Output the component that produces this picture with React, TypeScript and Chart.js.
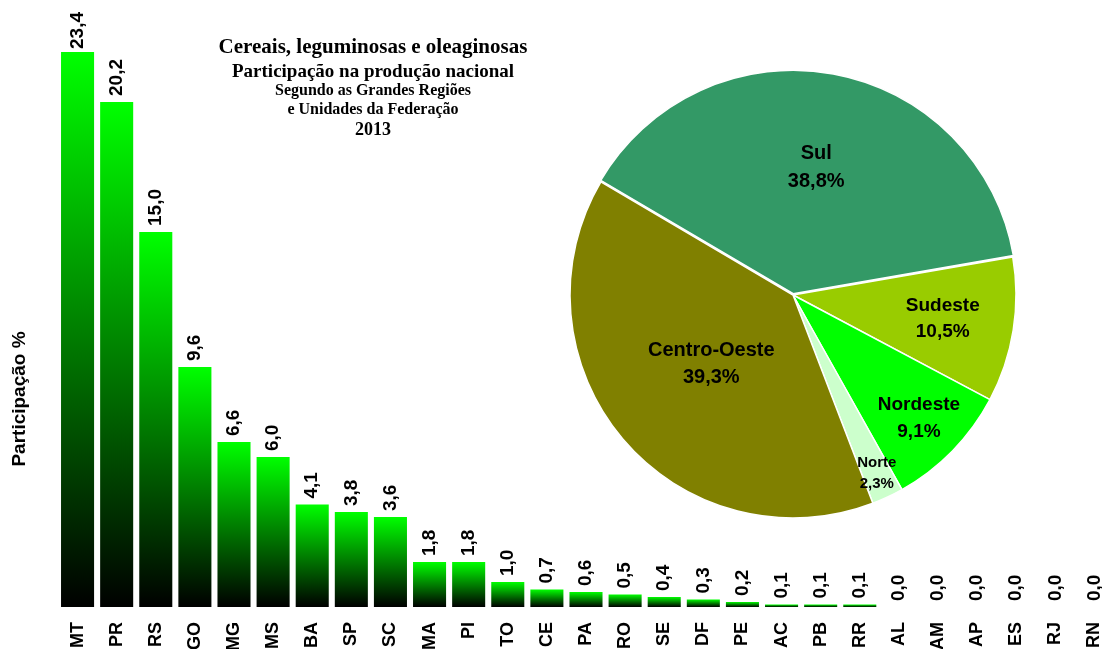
import React, { useEffect, useRef } from 'react';
import { Chart, registerables } from 'chart.js';

Chart.register(...registerables);

// ---- data ----
const states = ['MT', 'PR', 'RS', 'GO', 'MG', 'MS', 'BA', 'SP', 'SC', 'MA', 'PI', 'TO', 'CE', 'PA', 'RO', 'SE', 'DF', 'PE', 'AC', 'PB', 'RR', 'AL', 'AM', 'AP', 'ES', 'RJ', 'RN'];
const participation = [23.4, 20.2, 15.0, 9.6, 6.6, 6.0, 4.1, 3.8, 3.6, 1.8, 1.8, 1.0, 0.7, 0.6, 0.5, 0.4, 0.3, 0.2, 0.1, 0.1, 0.1, 0.0, 0.0, 0.0, 0.0, 0.0, 0.0];
const regions = ['Sul', 'Sudeste', 'Nordeste', 'Norte', 'Centro-Oeste'];
const regionShare = [38.8, 10.5, 9.1, 2.3, 39.3];
const regionColors = ['#339966', '#99CC00', '#00FF00', '#CCFFCC', '#808000'];
const titleLines = ['Cereais, leguminosas e oleaginosas', 'Participação na produção nacional', 'Segundo as Grandes Regiões', 'e Unidades da Federação', '2013'];
const yAxisTitle = 'Participação %';
const Y_MAX = 22.2;

// ---- styles ----
const SANS = 'Arial, "Liberation Sans", sans-serif';
const SERIF = '"Times New Roman", "Liberation Serif", serif';
const titleSizes = [21, 19, 16, 16, 18];
const titleYs = [48, 72, 91, 110, 130];
const pieLabelFactor = [0.58, 0.68, 0.79, 0.885, 0.48];
const pieLabelSize = [20, 19, 19, 15, 20];

const fmt = (v: number) => v.toFixed(1).replace('.', ',');

const barPlugin = {
  id: 'barExtras',
  afterDatasetsDraw(chart: any) {
    const ctx = chart.ctx;
    const meta = chart.getDatasetMeta(0);
    const top = chart.chartArea.top;
    ctx.save();
    ctx.fillStyle = '#000';
    ctx.font = `bold 19px ${SANS}`;
    ctx.textAlign = 'left';
    ctx.textBaseline = 'middle';
    meta.data.forEach((bar: any, i: number) => {
      const y = Math.max(bar.y, top);
      ctx.save();
      ctx.translate(bar.x, y - (i === 0 ? 3 : 6));
      ctx.rotate(-Math.PI / 2);
      ctx.fillText(fmt(participation[i]), 0, 0);
      ctx.restore();
    });
    ctx.restore();
  },
  afterDraw(chart: any) {
    const ctx = chart.ctx;
    ctx.save();
    ctx.fillStyle = '#000';
    ctx.textAlign = 'center';
    ctx.textBaseline = 'middle';
    titleLines.forEach((t, i) => {
      ctx.font = `bold ${titleSizes[i]}px ${SERIF}`;
      ctx.fillText(t, 373, titleYs[i]);
    });
    ctx.font = `bold 19px ${SANS}`;
    ctx.translate(20, 399);
    ctx.rotate(-Math.PI / 2);
    ctx.fillText(yAxisTitle, 0, 0);
    ctx.restore();
  },
};

const piePlugin = {
  id: 'pieLabels',
  afterDatasetsDraw(chart: any) {
    const ctx = chart.ctx;
    const meta = chart.getDatasetMeta(0);
    ctx.save();
    ctx.fillStyle = '#000';
    ctx.textAlign = 'center';
    ctx.textBaseline = 'middle';
    meta.data.forEach((arc: any, i: number) => {
      const mid = (arc.startAngle + arc.endAngle) / 2;
      const r = arc.outerRadius * pieLabelFactor[i];
      const cx = arc.x + Math.cos(mid) * r;
      const cy = arc.y + Math.sin(mid) * r;
      const size = pieLabelSize[i];
      const lh = size * 1.38;
      ctx.font = `bold ${size}px ${SANS}`;
      ctx.fillText(regions[i], cx, cy - lh / 2);
      ctx.fillText(fmt(regionShare[i]) + '%', cx, cy + lh / 2);
    });
    ctx.restore();
  },
};

export default function App() {
  const barRef = useRef<HTMLCanvasElement>(null);
  const pieRef = useRef<HTMLCanvasElement>(null);

  useEffect(() => {
    const bar = new Chart(barRef.current as HTMLCanvasElement, {
      type: 'bar',
      data: {
        labels: states,
        datasets: [
          {
            data: participation,
            backgroundColor: (ctx: any) => {
              const chart = ctx.chart;
              const { chartArea, scales } = chart;
              if (!chartArea || ctx.type !== 'data') return '#00ff00';
              const v = Math.min(ctx.raw, Y_MAX);
              const yb = scales.y.getPixelForValue(0);
              const yt = scales.y.getPixelForValue(v);
              if (yb - yt < 0.5) return '#00ff00';
              const g = chart.ctx.createLinearGradient(0, yb, 0, yt);
              g.addColorStop(0, '#000000');
              g.addColorStop(1, '#00ff00');
              return g;
            },
            borderWidth: 0,
            barPercentage: 0.845,
            categoryPercentage: 1,
          },
        ],
      },
      options: {
        responsive: false,
        animation: false,
        layout: { padding: { top: 52, left: 58, right: 0, bottom: 0 } },
        plugins: { legend: { display: false }, tooltip: { enabled: false }, title: { display: false } },
        scales: {
          x: {
            grid: { display: false, drawTicks: false },
            border: { display: false },
            ticks: {
              color: '#000',
              font: { family: SANS, weight: 'bold', size: 18 },
              minRotation: 90,
              maxRotation: 90,
              autoSkip: false,
              padding: 15,
            },
            afterFit: (scale: any) => {
              scale.height = 42;
              scale.paddingLeft = 0;
              scale.paddingRight = 0;
            },
          },
          y: { display: false, min: 0, max: Y_MAX },
        },
      } as any,
      plugins: [barPlugin],
    });

    const pie = new Chart(pieRef.current as HTMLCanvasElement, {
      type: 'pie',
      data: {
        labels: regions,
        datasets: [
          {
            data: regionShare,
            backgroundColor: regionColors,
            borderColor: '#ffffff',
            borderWidth: 1.5,
            offset: [5, 0, 0, 0, 0],
          },
        ],
      },
      options: {
        responsive: false,
        animation: false,
        rotation: -59.5,
        radius: 223,
        layout: { padding: 0 },
        plugins: { legend: { display: false }, tooltip: { enabled: false } },
      } as any,
      plugins: [piePlugin],
    });

    return () => {
      bar.destroy();
      pie.destroy();
    };
  }, []);

  return (
    <div style={{ position: 'fixed', left: 0, top: 0, width: 1102, height: 649, overflow: 'hidden', background: '#fff' }}>
      <canvas ref={barRef} width={1114} height={649} style={{ position: 'absolute', left: 0, top: 0, width: 1114, height: 649 }} />
      <canvas ref={pieRef} width={470} height={470} style={{ position: 'absolute', left: 558, top: 60, width: 470, height: 470 }} />
    </div>
  );
}
